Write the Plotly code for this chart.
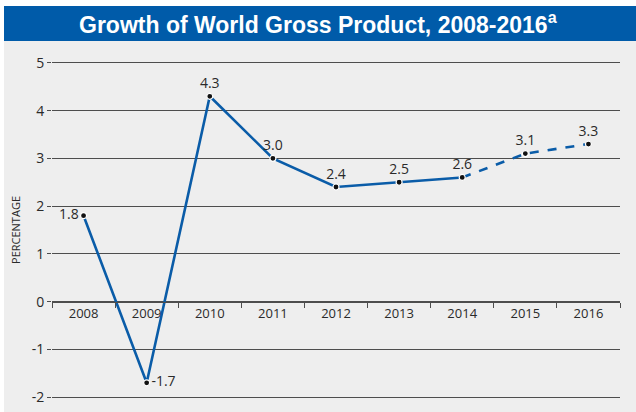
import plotly.graph_objects as go

years = ["2008", "2009", "2010", "2011", "2012", "2013", "2014", "2015", "2016"]
growth = [1.8, -1.7, 4.3, 3.0, 2.4, 2.5, 2.6, 3.1, 3.3]
label_pos = ["middle left", "middle right", "top center", "top center", "top center",
             "top center", "top center", "top center", "top center"]
n_actual = 7  # 2008-2014 actual, 2014-2016 projected (dashed)

y_ticks = [-2, -1, 0, 1, 2, 3, 4, 5]
y_ticktext = ["-2", "-1", "0", "1", "2", "3", "4", "5"]

title_text = "Growth of World Gross Product, 2008-2016<sup>a</sup>"
y_title = "PERCENTAGE"

BLUE = "#005ba9"
LINE = "#0a5ca8"
GRID = "#4d4d4d"
TEXT = "#2a2a2a"
FONT = "Open Sans"

W, H = 636, 412
ML, MR, MT, MB = 52, 16, 60, 12
pw, ph = W - ML - MR, H - MT - MB

def px_x(px):
    return (px - ML) / pw

def px_y(py):
    return (H - MB - py) / ph

y_lo, y_hi = -2.06, 5.06

fig = go.Figure()

fig.add_trace(go.Scatter(
    x=years[:n_actual], y=growth[:n_actual], mode="lines",
    line=dict(color=LINE, width=2.6), hoverinfo="skip", showlegend=False))
fig.add_trace(go.Scatter(
    x=years[n_actual - 1:], y=growth[n_actual - 1:], mode="lines",
    line=dict(color=LINE, width=2.6, dash="dash"), hoverinfo="skip", showlegend=False))
fig.add_trace(go.Scatter(
    x=years, y=growth, mode="markers+text",
    text=[f"{v:.1f}" for v in growth], textposition=label_pos,
    textfont=dict(family=FONT, size=14, color=TEXT),
    marker=dict(color="#111111", size=6, line=dict(color="white", width=1.2)),
    showlegend=False))

fig.update_layout(
    width=W, height=H,
    margin=dict(l=ML, r=MR, t=MT, b=MB, autoexpand=False),
    paper_bgcolor="white",
    plot_bgcolor="rgba(0,0,0,0)",
    font=dict(family=FONT, color=TEXT),
    shapes=[
        dict(type="rect", xref="paper", yref="paper", layer="below",
             x0=px_x(4), x1=px_x(637), y0=px_y(413), y1=px_y(41),
             fillcolor="#eeeeee", line=dict(width=0)),
        dict(type="rect", xref="paper", yref="paper", layer="below",
             x0=px_x(4), x1=px_x(637), y0=px_y(41), y1=px_y(6),
             fillcolor=BLUE, line=dict(width=0)),
    ],
    annotations=[
        dict(text=title_text, xref="paper", yref="paper",
             x=px_x(318), y=px_y(23.5), xanchor="center", yanchor="middle",
             showarrow=False,
             font=dict(family="Liberation Sans", size=23, color="white", weight="bold")),
    ],
    xaxis=dict(
        type="category", range=[-0.5, 8.5],
        anchor="free", position=(0 - y_lo) / (y_hi - y_lo),
        automargin=False,
        showline=True, linecolor=GRID, linewidth=1.3,
        ticks="outside", tickson="boundaries", ticklen=5, tickcolor=GRID, tickwidth=1.3,
        showgrid=False, zeroline=False,
        tickfont=dict(family=FONT, size=13, color=TEXT),
    ),
    yaxis=dict(
        range=[y_lo, y_hi], tickvals=y_ticks, ticktext=y_ticktext,
        automargin=False,
        showgrid=True, gridcolor=GRID, gridwidth=1.3,
        zeroline=False,
        ticks="outside", ticklen=4, tickcolor=GRID, tickwidth=1.3,
        tickfont=dict(family=FONT, size=14, color=TEXT),
        title=dict(text=y_title, font=dict(family=FONT, size=11, color=TEXT), standoff=8),
    ),
)

fig.write_html("out.html", config={"displayModeBar": False},
               post_script="document.body.style.margin='0';")
